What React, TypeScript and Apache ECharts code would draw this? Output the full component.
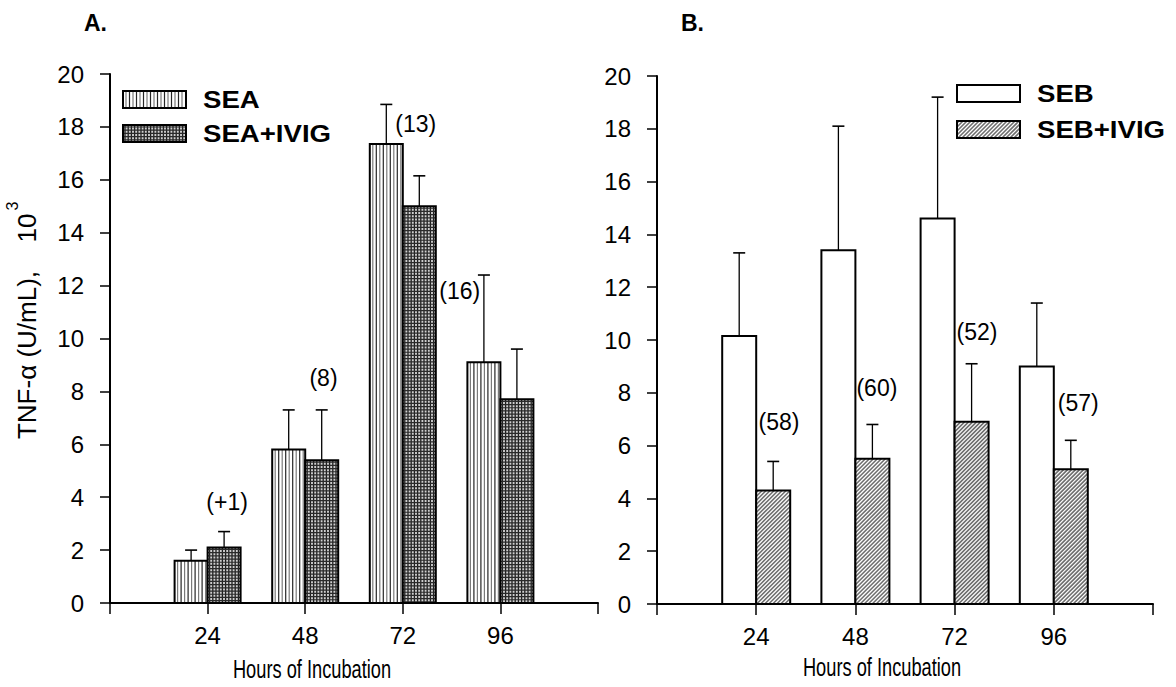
import React, { useEffect, useRef } from "react";
import * as echarts from "echarts";

// ---------------- data ----------------
const hours = [24, 48, 72, 96];
const seaMean = [1.6, 5.8, 17.35, 9.1];
const seaErr = [0.4, 1.5, 1.5, 3.3];
const seaIvigMean = [2.1, 5.4, 15.0, 7.7];
const seaIvigErr = [0.6, 1.9, 1.15, 1.9];
const sebMean = [10.15, 13.4, 14.6, 9.0];
const sebErr = [3.15, 4.7, 4.6, 2.4];
const sebIvigMean = [4.3, 5.5, 6.9, 5.1];
const sebIvigErr = [1.1, 1.3, 2.2, 1.1];
const changeA = ["(+1)", "(8)", "(13)", "(16)"];
const changeB = ["(58)", "(60)", "(52)", "(57)"];
const seriesNamesA = ["SEA", "SEA+IVIG"];
const seriesNamesB = ["SEB", "SEB+IVIG"];

// ---------------- layout ----------------
const annotPosA = [[28.8, 3.8], [52.5, 8.5], [75.2, 18.1], [86, 11.8]];
const annotPosB = [[29.5, 6.9], [53.2, 8.2], [77.4, 10.3], [101.9, 7.6]];
const FONT = "'Liberation Sans', Arial, Helvetica, sans-serif";

type Kind = "vstripe" | "cross" | "blank" | "diag";

function patternEls(kind: Kind, x0: number, y0: number, x1: number, y1: number): any[] {
  const els: any[] = [];
  els.push({
    type: "rect",
    shape: { x: x0, y: y0, width: x1 - x0, height: y1 - y0 },
    style: { fill: kind === "cross" ? "#cfcfcf" : "#fff" },
  });
  if (kind === "vstripe") {
    let i = 0;
    for (let x = x0 + 3; x < x1 - 1; x += 3.5, i++) {
      els.push({
        type: "line",
        shape: { x1: x, y1: y0, x2: x, y2: y1 },
        style: { stroke: i % 2 ? "#252525" : "#7a7a7a", lineWidth: 1.2 },
      });
    }
  } else if (kind === "cross") {
    for (let x = x0 + 2; x < x1; x += 3.2) {
      els.push({
        type: "line",
        shape: { x1: x, y1: y0, x2: x, y2: y1 },
        style: { stroke: "#1e1e1e", lineWidth: 1.3 },
      });
    }
    for (let y = y0 + 2; y < y1; y += 3.2) {
      els.push({
        type: "line",
        shape: { x1: x0, y1: y, x2: x1, y2: y },
        style: { stroke: "#2a2a2a", lineWidth: 1.2 },
      });
    }
  } else if (kind === "diag") {
    const s = 4;
    for (let k = x0 + y0 + s / 2; k < x1 + y1; k += s) {
      const xa = Math.max(x0, k - y1);
      const xb = Math.min(x1, k - y0);
      if (xb > xa) {
        els.push({
          type: "line",
          shape: { x1: xa, y1: k - xa, x2: xb, y2: k - xb },
          style: { stroke: "#6e6e6e", lineWidth: 1.6 },
        });
      }
    }
  }
  els.push({
    type: "rect",
    shape: { x: x0, y: y0, width: x1 - x0, height: y1 - y0 },
    style: { fill: "none", stroke: "#000", lineWidth: 2 },
  });
  return els;
}

function barSeries(
  name: string,
  axisIndex: number,
  means: number[],
  errs: number[],
  side: number,
  kind: Kind,
  bw: number
) {
  return {
    type: "custom",
    name,
    xAxisIndex: axisIndex,
    yAxisIndex: axisIndex,
    silent: true,
    data: hours.map((h, i) => [h, means[i], errs[i]]),
    renderItem: (params: any, api: any) => {
      const x = api.value(0);
      const v = api.value(1);
      const e = api.value(2);
      const top = api.coord([x, v]);
      const base = api.coord([x, 0]);
      const et = api.coord([x, v + e]);
      const x0 = side < 0 ? top[0] - bw : top[0];
      const x1 = x0 + bw;
      const cx = (x0 + x1) / 2;
      const children = patternEls(kind, x0, top[1], x1, base[1]);
      children.push({
        type: "line",
        shape: { x1: cx, y1: top[1], x2: cx, y2: et[1] },
        style: { stroke: "#000", lineWidth: 1.3 },
      });
      children.push({
        type: "line",
        shape: { x1: cx - 6, y1: et[1], x2: cx + 6, y2: et[1] },
        style: { stroke: "#000", lineWidth: 1.6 },
      });
      return { type: "group", children };
    },
  };
}

function annotSeries(axisIndex: number, texts: string[], pos: number[][]) {
  return {
    type: "custom",
    xAxisIndex: axisIndex,
    yAxisIndex: axisIndex,
    silent: true,
    data: pos.map((p) => [p[0], p[1]]),
    renderItem: (params: any, api: any) => {
      const c = api.coord([api.value(0), api.value(1)]);
      return {
        type: "text",
        x: c[0],
        y: c[1],
        style: {
          text: texts[params.dataIndex],
          fontSize: 23,
          fontFamily: FONT,
          fill: "#000",
          textAlign: "center",
          textVerticalAlign: "middle",
        },
      };
    },
  };
}

function legendEls(x: number, y: number, kind: Kind, label: string): any[] {
  const els = patternEls(kind, x, y, x + 63, y + 17);
  els.push({
    type: "text",
    x: x + 80,
    y: y + 9,
    scaleX: 1.2,
    style: {
      text: label,
      fontSize: 23,
      fontWeight: "bold",
      fontFamily: FONT,
      fill: "#000",
      textAlign: "left",
      textVerticalAlign: "middle",
    },
  });
  return els;
}

function xAxisCfg(gridIndex: number) {
  return {
    type: "value",
    gridIndex,
    min: 0,
    max: 120,
    interval: 24,
    axisLine: { show: true, lineStyle: { color: "#000", width: 2 } },
    axisTick: { show: true, length: 11, lineStyle: { color: "#000", width: 1.5 } },
    axisLabel: {
      formatter: (v: number) => (v === 0 || v === 120 ? "" : String(v)),
      fontSize: 24,
      fontFamily: FONT,
      color: "#000",
      margin: 20,
    },
    splitLine: { show: false },
  };
}

function yAxisCfg(gridIndex: number) {
  return {
    type: "value",
    gridIndex,
    min: 0,
    max: 20,
    interval: 2,
    axisLine: { show: true, lineStyle: { color: "#000", width: 2 } },
    axisTick: { show: true, length: 10, lineStyle: { color: "#000", width: 1.5 } },
    axisLabel: { fontSize: 24, fontFamily: FONT, color: "#000", margin: 26 },
    splitLine: { show: false },
  };
}

function axisTitle(x: number, y: number) {
  return {
    type: "text",
    x,
    y,
    scaleX: 0.73,
    style: {
      text: "Hours of Incubation",
      fontSize: 25,
      fontFamily: FONT,
      fill: "#000",
      textAlign: "center",
      textVerticalAlign: "middle",
    },
  };
}

export default function App() {
  const ref = useRef<HTMLDivElement>(null);
  useEffect(() => {
    const chart = echarts.init(ref.current!, null, { renderer: "svg" });
    const option: any = {
      animation: false,
      backgroundColor: "#fff",
      grid: [
        { left: 110, top: 74, width: 488, height: 529 },
        { left: 657, top: 76, width: 496, height: 528 },
      ],
      xAxis: [xAxisCfg(0), xAxisCfg(1)],
      yAxis: [yAxisCfg(0), yAxisCfg(1)],
      series: [
        barSeries(seriesNamesA[0], 0, seaMean, seaErr, -1, "vstripe", 33),
        barSeries(seriesNamesA[1], 0, seaIvigMean, seaIvigErr, 1, "cross", 33),
        barSeries(seriesNamesB[0], 1, sebMean, sebErr, -1, "blank", 34),
        barSeries(seriesNamesB[1], 1, sebIvigMean, sebIvigErr, 1, "diag", 34),
        annotSeries(0, changeA, annotPosA),
        annotSeries(1, changeB, annotPosB),
      ],
      graphic: [
        {
          type: "text",
          left: 84,
          top: 11,
          style: { text: "A.", fontSize: 23, fontWeight: "bold", fontFamily: FONT, fill: "#000" },
        },
        {
          type: "text",
          left: 681,
          top: 11,
          style: { text: "B.", fontSize: 23, fontWeight: "bold", fontFamily: FONT, fill: "#000" },
        },
        {
          type: "text",
          x: 27,
          y: 355,
          rotation: Math.PI / 2,
          style: {
            text: "TNF-α (U/mL),",
            fontSize: 26,
            fontFamily: FONT,
            fill: "#000",
            textAlign: "center",
            textVerticalAlign: "middle",
          },
        },
        {
          type: "text",
          x: 27,
          y: 228,
          rotation: Math.PI / 2,
          style: {
            text: "10",
            fontSize: 26,
            fontFamily: FONT,
            fill: "#000",
            textAlign: "center",
            textVerticalAlign: "middle",
          },
        },
        {
          type: "text",
          x: 12,
          y: 206,
          rotation: Math.PI / 2,
          style: {
            text: "3",
            fontSize: 16,
            fontFamily: FONT,
            fill: "#000",
            textAlign: "center",
            textVerticalAlign: "middle",
          },
        },
        axisTitle(312, 669),
        axisTitle(882, 667),
        { type: "group", children: legendEls(123, 91, "vstripe", seriesNamesA[0]) },
        { type: "group", children: legendEls(123, 125, "cross", seriesNamesA[1]) },
        { type: "group", children: legendEls(957, 85, "blank", seriesNamesB[0]) },
        { type: "group", children: legendEls(957, 121, "diag", seriesNamesB[1]) },
      ],
    };
    chart.setOption(option);
    return () => chart.dispose();
  }, []);
  return (
    <div
      ref={ref}
      style={{ position: "absolute", left: 0, top: 0, width: 1176, height: 687 }}
    />
  );
}
